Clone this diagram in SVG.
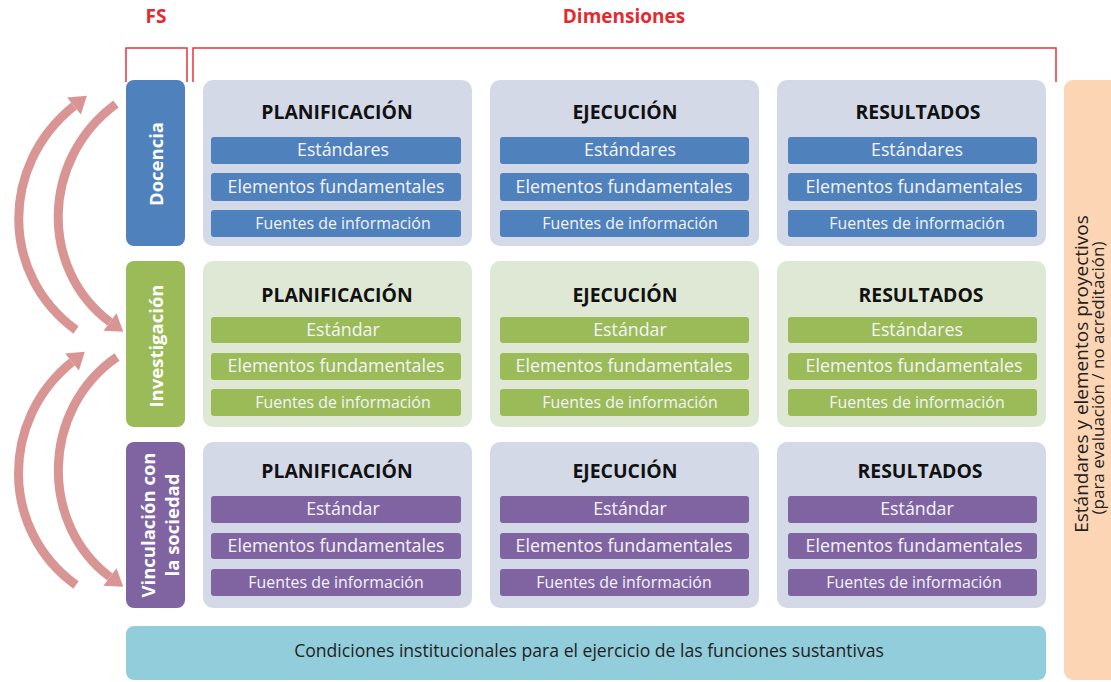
<svg xmlns="http://www.w3.org/2000/svg" width="1111" height="682" viewBox="0 0 1111 682">
<defs>
<style>
.hdr{font-family:"Open Sans","Liberation Sans",sans-serif;font-weight:700;fill:#e32b2f;font-size:19px;text-anchor:middle}
.brk{fill:none;stroke:#e5363c;stroke-width:1.5}
.panelA{fill:#d3d9e7}
.panelG{fill:#dfe8d4}
.ttl{font-family:"Open Sans","Liberation Sans",sans-serif;font-weight:700;font-size:19.4px;fill:#111;text-anchor:middle}
.bar{font-family:"Open Sans","Liberation Sans",sans-serif;font-size:17.8px;fill:#f4f4fa;text-anchor:middle}
.bars{font-family:"Open Sans","Liberation Sans",sans-serif;font-size:15.9px;fill:#f4f4fa;text-anchor:middle}
.blue{fill:#4f81bd}
.green{fill:#9bbb59}
.purple{fill:#8064a2}
.fs{font-family:"Open Sans","Liberation Sans",sans-serif;font-weight:700;font-size:18.5px;fill:#fff;text-anchor:middle}
.arc{fill:none;stroke:#d99594;stroke-width:9}
.side{font-family:"Open Sans","Liberation Sans",sans-serif;fill:#222;text-anchor:middle}
</style>
<marker id="ah" markerUnits="userSpaceOnUse" markerWidth="20" markerHeight="22" refX="0" refY="10" orient="auto" viewBox="0 0 16 20">
<path d="M0,0 L15,10 L0,20 z" fill="#d99594"/>
</marker>
</defs>

<g id="headers">
<text class="hdr" x="156" y="23">FS</text>
<text class="hdr" x="624" y="23">Dimensiones</text>
<path class="brk" d="M126,82 V48 H187 V82"/>
<path class="brk" d="M193,82 V48 H1056 V82"/>
</g>

<g id="connectors">
<path class="arc" d="M76,330 C0,275 0,165 74,106" marker-end="url(#ah)"/>
<path class="arc" d="M116,104 C40,160 40,270 110,322" marker-end="url(#ah)"/>
<path class="arc" d="M76,585 C0,530 0,420 72,362" marker-end="url(#ah)"/>
<path class="arc" d="M117,357 C40,410 40,525 110,577" marker-end="url(#ah)"/>
</g>

<g id="fs-docencia">
<rect class="blue" x="126" y="80" width="59" height="166" rx="8"/>
<text class="fs" transform="translate(163,164) rotate(-90)">Docencia</text>
</g>
<g id="fs-investigacion">
<rect class="green" x="126" y="261" width="59" height="166" rx="8"/>
<text class="fs" transform="translate(163,346) rotate(-90)">Investigación</text>
</g>
<g id="fs-vinculacion">
<rect class="purple" x="126" y="442" width="59" height="166" rx="8"/>
<text class="fs" transform="translate(155,525) rotate(-90)">Vinculación con</text>
<text class="fs" transform="translate(179,525) rotate(-90)">la sociedad</text>
</g>

<!-- Row 1 -->
<g id="doc-planificacion">
<rect class="panelA" x="203" y="80" width="269" height="166" rx="10"/>
<text class="ttl" x="337" y="119">PLANIFICACIÓN</text>
<rect class="blue" x="211" y="137" width="250" height="27" rx="3"/>
<text class="bar" x="343" y="156">Estándares</text>
<rect class="blue" x="211" y="173" width="250" height="28" rx="3"/>
<text class="bar" x="336" y="193">Elementos fundamentales</text>
<rect class="blue" x="211" y="210" width="250" height="27" rx="3"/>
<text class="bars" x="343" y="229">Fuentes de información</text>
</g>
<g id="doc-ejecucion">
<rect class="panelA" x="490" y="80" width="269" height="166" rx="10"/>
<text class="ttl" x="625" y="119">EJECUCIÓN</text>
<rect class="blue" x="500" y="137" width="249" height="27" rx="3"/>
<text class="bar" x="630" y="156">Estándares</text>
<rect class="blue" x="500" y="173" width="249" height="28" rx="3"/>
<text class="bar" x="624" y="193">Elementos fundamentales</text>
<rect class="blue" x="500" y="210" width="249" height="27" rx="3"/>
<text class="bars" x="630" y="229">Fuentes de información</text>
</g>
<g id="doc-resultados">
<rect class="panelA" x="777" y="80" width="269" height="166" rx="10"/>
<text class="ttl" x="918" y="119">RESULTADOS</text>
<rect class="blue" x="788" y="137" width="249" height="27" rx="3"/>
<text class="bar" x="917" y="156">Estándares</text>
<rect class="blue" x="788" y="173" width="249" height="28" rx="3"/>
<text class="bar" x="914" y="193">Elementos fundamentales</text>
<rect class="blue" x="788" y="210" width="249" height="27" rx="3"/>
<text class="bars" x="917" y="229">Fuentes de información</text>
</g>

<!-- Row 2 -->
<g id="inv-planificacion">
<rect class="panelG" x="203" y="261" width="269" height="166" rx="10"/>
<text class="ttl" x="337" y="302">PLANIFICACIÓN</text>
<rect class="green" x="211" y="317" width="250" height="26" rx="3"/>
<text class="bar" x="343" y="336">Estándar</text>
<rect class="green" x="211" y="353" width="250" height="27" rx="3"/>
<text class="bar" x="336" y="372">Elementos fundamentales</text>
<rect class="green" x="211" y="389" width="250" height="27" rx="3"/>
<text class="bars" x="343" y="408">Fuentes de información</text>
</g>
<g id="inv-ejecucion">
<rect class="panelG" x="490" y="261" width="269" height="166" rx="10"/>
<text class="ttl" x="625" y="302">EJECUCIÓN</text>
<rect class="green" x="500" y="317" width="249" height="26" rx="3"/>
<text class="bar" x="630" y="336">Estándar</text>
<rect class="green" x="500" y="353" width="249" height="27" rx="3"/>
<text class="bar" x="624" y="372">Elementos fundamentales</text>
<rect class="green" x="500" y="389" width="249" height="27" rx="3"/>
<text class="bars" x="630" y="408">Fuentes de información</text>
</g>
<g id="inv-resultados">
<rect class="panelG" x="777" y="261" width="269" height="166" rx="10"/>
<text class="ttl" x="921" y="302">RESULTADOS</text>
<rect class="green" x="788" y="317" width="249" height="26" rx="3"/>
<text class="bar" x="917" y="336">Estándares</text>
<rect class="green" x="788" y="353" width="249" height="27" rx="3"/>
<text class="bar" x="914" y="372">Elementos fundamentales</text>
<rect class="green" x="788" y="389" width="249" height="27" rx="3"/>
<text class="bars" x="917" y="408">Fuentes de información</text>
</g>

<!-- Row 3 -->
<g id="vin-planificacion">
<rect class="panelA" x="203" y="442" width="269" height="166" rx="10"/>
<text class="ttl" x="337" y="478">PLANIFICACIÓN</text>
<rect class="purple" x="211" y="496" width="250" height="27" rx="3"/>
<text class="bar" x="343" y="515">Estándar</text>
<rect class="purple" x="211" y="533" width="250" height="26" rx="3"/>
<text class="bar" x="336" y="552">Elementos fundamentales</text>
<rect class="purple" x="211" y="569" width="250" height="27" rx="3"/>
<text class="bars" x="336" y="588">Fuentes de información</text>
</g>
<g id="vin-ejecucion">
<rect class="panelA" x="490" y="442" width="269" height="166" rx="10"/>
<text class="ttl" x="625" y="478">EJECUCIÓN</text>
<rect class="purple" x="500" y="496" width="249" height="27" rx="3"/>
<text class="bar" x="630" y="515">Estándar</text>
<rect class="purple" x="500" y="533" width="249" height="26" rx="3"/>
<text class="bar" x="624" y="552">Elementos fundamentales</text>
<rect class="purple" x="500" y="569" width="249" height="27" rx="3"/>
<text class="bars" x="624" y="588">Fuentes de información</text>
</g>
<g id="vin-resultados">
<rect class="panelA" x="777" y="442" width="269" height="166" rx="10"/>
<text class="ttl" x="920" y="478">RESULTADOS</text>
<rect class="purple" x="788" y="496" width="249" height="27" rx="3"/>
<text class="bar" x="917" y="515">Estándar</text>
<rect class="purple" x="788" y="533" width="249" height="26" rx="3"/>
<text class="bar" x="914" y="552">Elementos fundamentales</text>
<rect class="purple" x="788" y="569" width="249" height="27" rx="3"/>
<text class="bars" x="914" y="588">Fuentes de información</text>
</g>

<g id="condiciones">
<rect x="126" y="626" width="920" height="54" rx="8" fill="#92cddc"/>
<text class="side" x="589" y="657" font-size="17.6px">Condiciones institucionales para el ejercicio de las funciones sustantivas</text>
</g>

<g id="proyectivos">
<rect x="1064" y="80" width="60" height="600" rx="9" fill="#fcd5b4"/>
<text class="side" transform="translate(1088,374) rotate(-90)" font-size="19px">Estándares y elementos proyectivos</text>
<text class="side" transform="translate(1104,378) rotate(-90)" font-size="17px">(para evaluación / no acreditación)</text>
</g>
</svg>
